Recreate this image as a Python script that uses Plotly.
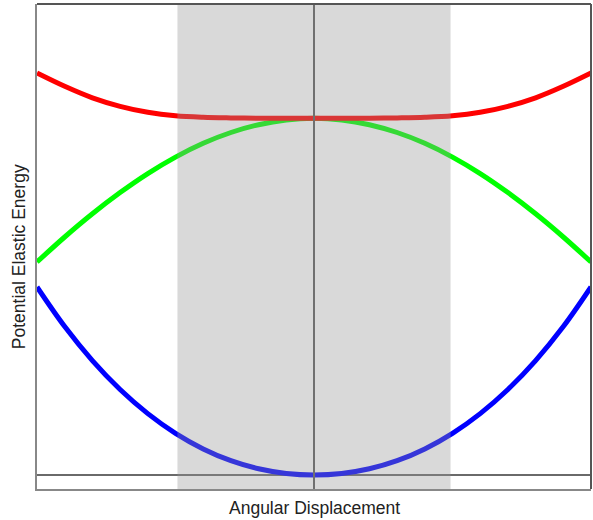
import plotly.graph_objects as go

# Angular displacement samples (arbitrary units, symmetric about 0)
x_vals = [-1.0, -0.9, -0.8, -0.7, -0.6, -0.5, -0.4, -0.3, -0.2, -0.1, 0.0,
          0.1, 0.2, 0.3, 0.4, 0.5, 0.6, 0.7, 0.8, 0.9, 1.0]

# Potential elastic energy curves (arbitrary units)
red_vals = [4.020, 3.887, 3.772, 3.687, 3.627, 3.592, 3.577, 3.571, 3.568, 3.567, 3.567,
            3.567, 3.568, 3.571, 3.577, 3.592, 3.627, 3.687, 3.772, 3.887, 4.020]
green_vals = [2.130, 2.380, 2.612, 2.824, 3.014, 3.179, 3.317, 3.425, 3.503, 3.551, 3.567,
              3.551, 3.503, 3.425, 3.317, 3.179, 3.014, 2.824, 2.612, 2.380, 2.130]
blue_vals = [1.880, 1.484, 1.144, 0.855, 0.614, 0.417, 0.261, 0.143, 0.062, 0.015, 0.0,
             0.015, 0.062, 0.143, 0.261, 0.417, 0.614, 0.855, 1.144, 1.484, 1.880]

shade_range = [-0.493, 0.493]
x_range = [-1.0, 1.0]
y_range = [-0.14, 4.71]

x_title = "Angular Displacement"
y_title = "Potential Elastic Energy"

fig = go.Figure()
for vals, col in [(blue_vals, "#0000ff"), (green_vals, "#00ff00"), (red_vals, "#ff0000")]:
    fig.add_trace(go.Scatter(x=x_vals, y=vals, mode="lines",
                             line=dict(color=col, width=5, shape="spline", smoothing=1.0),
                             hoverinfo="skip", showlegend=False))

shapes = [
    # zero line
    dict(type="line", xref="paper", yref="y", x0=0, x1=1, y0=0, y1=0,
         line=dict(color="#6a6a6a", width=2), layer="below"),
    # shaded region
    dict(type="rect", xref="x", yref="paper", x0=shade_range[0], x1=shade_range[1], y0=0, y1=1,
         fillcolor="rgba(150,150,150,0.36)", line=dict(width=0), layer="above"),
    # vertical center line
    dict(type="line", xref="x", yref="paper", x0=0, x1=0, y0=0, y1=1,
         line=dict(color="#707070", width=2), layer="above"),
    # top and right frame
    dict(type="line", xref="paper", yref="paper", x0=0, x1=1, y0=1, y1=1,
         line=dict(color="#555555", width=2), layer="above"),
    dict(type="line", xref="paper", yref="paper", x0=1, x1=1, y0=0, y1=1,
         line=dict(color="#555555", width=2), layer="above"),
]

title_font = dict(family="Liberation Sans, Arial, Helvetica, sans-serif", size=17.5, color="#222222")

fig.update_layout(
    width=593, height=520,
    margin=dict(l=37, r=2, t=4, b=31),
    paper_bgcolor="white", plot_bgcolor="white",
    shapes=shapes,
    xaxis=dict(range=x_range, showgrid=False, zeroline=False, showticklabels=False,
               ticks="", showline=True, linecolor="#888888", linewidth=2),
    yaxis=dict(range=y_range, showgrid=False, zeroline=False, showticklabels=False,
               ticks="", showline=True, linecolor="#888888", linewidth=2),
    annotations=[
        dict(text=x_title, xref="paper", yref="paper", x=0.5, y=0, yshift=-19,
             xanchor="center", yanchor="middle", showarrow=False, font=title_font),
        dict(text=y_title, xref="paper", yref="paper", x=0, y=0.478, xshift=-18,
             xanchor="center", yanchor="middle", showarrow=False, textangle=-90,
             font=title_font),
    ],
)

fig.write_html("out.html", config={"displayModeBar": False},
               post_script="document.body.style.margin='0';document.body.style.padding='0';")
